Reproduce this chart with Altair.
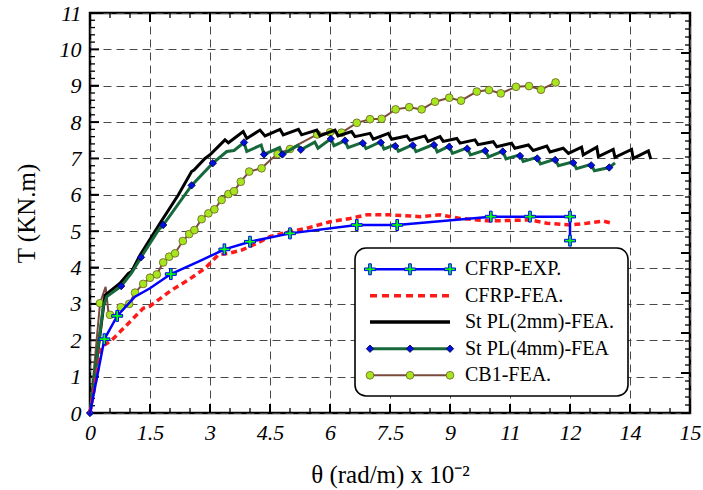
import altair as alt
import pandas as pd
import numpy as np

# ---------------- data ----------------
# CFRP-EXP. (line + plus markers)
exp_x = [0, 0.36, 0.68, 1.125, 1.5, 2.02, 2.71, 3.36, 4.0, 5.0, 6.67, 7.68, 10.02, 11.0, 12.0, 12.0]
exp_y = [0, 2.03, 2.67, 3.20, 3.43, 3.82, 4.16, 4.50, 4.71, 4.94, 5.17, 5.17, 5.40, 5.40, 5.40, 4.74]
expm_x = [0.36, 0.68, 2.02, 3.36, 4.0, 5.0, 6.67, 7.68, 10.02, 11.0, 12.0, 12.0]
expm_y = [2.03, 2.67, 3.82, 4.50, 4.71, 4.94, 5.17, 5.17, 5.40, 5.40, 5.40, 4.74]

# CFRP-FEA. (red dashed)
fea_x = [0, 0.29, 0.54, 0.875, 1.33, 1.5, 2.04, 2.46, 2.875, 3.21, 3.46, 3.79, 4.08, 4.5, 5.0,
         5.42, 6.0, 6.5, 6.92, 7.5, 8.25, 8.75, 9.25, 10.0, 11.0, 11.42, 12.0, 12.42, 12.83, 13.04]
fea_y = [0, 1.82, 2.0, 2.37, 2.88, 2.94, 3.38, 3.66, 3.98, 4.35, 4.39, 4.48, 4.62, 4.85, 4.99,
         5.08, 5.26, 5.35, 5.45, 5.45, 5.40, 5.45, 5.35, 5.28, 5.31, 5.22, 5.17, 5.22, 5.28, 5.22]

# St PL(2mm)-FEA. (black)
st2_x = [0, 0.375, 0.75, 0.96, 1.04, 1.25, 1.625, 1.75, 2.21, 2.54, 2.6, 2.875, 3.0, 3.375, 3.46,
         3.83, 3.92, 4.25, 4.375, 4.75, 4.83, 5.21, 5.29, 5.67, 5.75, 6.125, 6.2, 6.54, 6.625,
         7.0, 7.08, 7.46, 7.54, 7.92, 8.0, 8.375, 8.45, 8.75, 8.83, 9.17, 9.25, 9.625, 9.7,
         10.08, 10.17, 10.54, 10.62, 10.96, 11.08, 11.42, 11.5, 11.83, 11.96, 12.29, 12.33,
         12.67, 12.71, 13.08, 13.125, 13.54, 13.58, 13.96, 14.02]
st2_y = [0, 3.24, 3.57, 3.84, 3.89, 4.34, 5.0, 5.22, 6.0, 6.64, 6.68, 7.0, 7.10, 7.51, 7.43,
         7.74, 7.55, 7.78, 7.62, 7.80, 7.65, 7.80, 7.65, 7.78, 7.62, 7.78, 7.62, 7.74, 7.60,
         7.69, 7.53, 7.69, 7.53, 7.62, 7.50, 7.62, 7.47, 7.60, 7.47, 7.55, 7.42, 7.51, 7.38,
         7.46, 7.32, 7.42, 7.28, 7.37, 7.22, 7.34, 7.18, 7.28, 7.14, 7.31, 7.10,
         7.31, 7.05, 7.25, 7.03, 7.25, 7.00, 7.21, 6.98]

# St PL(4mm)-FEA (green line + blue diamonds)
st4_x = [0, 0.33, 0.42, 0.78, 1.04, 1.275, 1.71, 1.83, 2.54, 3.07, 3.42, 3.6, 3.85, 3.92,
         4.28, 4.35, 4.74, 4.81, 5.2, 5.27, 5.62, 5.7, 6.02, 6.1, 6.375, 6.45, 6.82, 6.9,
         7.27, 7.35, 7.63, 7.71, 8.07, 8.15, 8.6, 8.68, 8.98, 9.06, 9.43, 9.51, 9.88, 9.96,
         10.32, 10.4, 10.75, 10.83, 11.18, 11.26, 11.63, 11.71, 12.08, 12.16, 12.53, 12.61,
         12.98, 13.125]
st4_y = [0, 2.92, 3.20, 3.49, 3.85, 4.28, 5.03, 5.17, 6.26, 6.87, 7.19, 7.22, 7.44, 7.19,
         7.37, 7.11, 7.30, 7.11, 7.36, 7.24, 7.45, 7.28, 7.54, 7.35, 7.49, 7.30, 7.44, 7.27,
         7.46, 7.26, 7.38, 7.20, 7.38, 7.19, 7.39, 7.18, 7.34, 7.14, 7.29, 7.10, 7.23, 7.04,
         7.20, 6.99, 7.10, 6.92, 7.03, 6.85, 6.98, 6.80, 6.91, 6.72, 6.84, 6.66,
         6.75, 6.88]
st4m_x = [0, 0.78, 1.275, 1.83, 2.54, 3.07, 3.85, 4.35, 4.81, 5.27, 6.02, 6.375, 6.82, 7.27,
          7.63, 8.07, 8.6, 8.98, 9.43, 9.88, 10.32, 10.75, 11.18, 11.63, 12.08, 12.53, 12.98]
st4m_y = [0, 3.49, 4.28, 5.17, 6.26, 6.87, 7.44, 7.11, 7.11, 7.24, 7.54, 7.49, 7.42, 7.44,
          7.34, 7.36, 7.37, 7.32, 7.27, 7.21, 7.19, 7.07, 7.00, 6.96, 6.88, 6.81, 6.75]

# CB1-FEA. (brown line + yellow-green circles)
cb1_x = [0, 0.25, 0.39, 0.46, 0.5, 0.6, 0.77, 0.98, 1.125, 1.33, 1.5, 1.67, 1.83, 1.98, 2.125,
         2.32, 2.48, 2.61, 2.79, 2.96, 3.11, 3.29, 3.46, 3.6, 3.77, 3.98, 4.29, 4.5, 4.69, 5.0,
         5.34, 5.68, 6.0, 6.29, 6.67, 7.0, 7.29, 7.64, 7.98, 8.29, 8.625, 8.98, 9.275, 9.67,
         9.975, 10.27, 10.65, 10.975, 11.275, 11.64]
cb1_y = [0, 3.02, 3.47, 2.78, 2.70, 2.66, 2.91, 3.0, 3.31, 3.55, 3.72, 3.81, 4.14, 4.30, 4.39,
         4.73, 4.92, 5.03, 5.33, 5.49, 5.60, 5.86, 6.02, 6.10, 6.36, 6.64, 6.73, 6.95, 7.12, 7.26,
         7.46, 7.66, 7.72, 7.71, 7.98, 8.08, 8.09, 8.35, 8.41, 8.35, 8.56, 8.67, 8.59, 8.84,
         8.88, 8.79, 8.97, 8.99, 8.89, 9.09]
cb1m_x = [0.25, 0.5, 0.77, 0.98, 1.125, 1.33, 1.5, 1.67, 1.83, 1.98, 2.125, 2.32, 2.48, 2.61,
          2.79, 2.96, 3.11, 3.29, 3.46, 3.6, 3.77, 3.98, 4.29, 4.69, 5.0, 5.68, 6.0, 6.29, 6.67,
          7.0, 7.29, 7.64, 7.98, 8.29, 8.625, 8.98, 9.275, 9.67, 9.975, 10.27, 10.65, 10.975,
          11.275, 11.64]
cb1m_y = [3.02, 2.70, 2.91, 3.0, 3.31, 3.55, 3.72, 3.81, 4.14, 4.30, 4.39, 4.73, 4.92, 5.03,
          5.33, 5.49, 5.60, 5.86, 6.02, 6.10, 6.36, 6.64, 6.73, 7.12, 7.26, 7.66, 7.72, 7.71, 7.98,
          8.08, 8.09, 8.35, 8.41, 8.35, 8.56, 8.67, 8.59, 8.84, 8.88, 8.79, 8.97, 8.99,
          8.89, 9.09]

legend_names = ["CFRP-EXP.", "CFRP-FEA.", "St PL(2mm)-FEA.", "St PL(4mm)-FEA", "CB1-FEA."]

x_major = [0, 1.5, 3, 4.5, 6, 7.5, 9, 10.5, 12, 13.5, 15]
y_major = list(range(0, 12))

# ---------------- layout / style ----------------
W, H = 600, 400
FONT = "Liberation Serif"
BLUE = "#0000ff"
RED = "#ff1a1a"
GREEN = "#16693a"
BROWN = "#7a4a3c"
PLUS = "M-1,-0.24H-0.24V-1H0.24V-0.24H1V0.24H0.24V1H-0.24V0.24H-1Z"

xs = alt.Scale(domain=[0, 15], nice=False, zero=False)
ys = alt.Scale(domain=[0, 11], nice=False, zero=False)

xaxis = alt.Axis(values=x_major, format="~g", grid=True, gridDash=[8, 5], gridColor="#4a4a4a",
                 gridWidth=1, ticks=False, domain=False, labelFlush=False, labelOverlap=False,
                 labelFont=FONT, labelFontStyle="italic", labelFontSize=22, labelColor="black",
                 labelPadding=9, title="θ (rad/m) x 10⁻²", titleFont=FONT, titleFontSize=25,
                 titleFontWeight="normal", titleColor="black", titlePadding=19)
yaxis = alt.Axis(values=y_major, format="d", grid=True, gridDash=[8, 5], gridColor="#4a4a4a",
                 gridWidth=1, ticks=False, domain=False, labelOverlap=False,
                 labelFont=FONT, labelFontStyle="italic", labelFontSize=22, labelColor="black",
                 labelPadding=9, title="T (KN.m)", titleFont=FONT, titleFontSize=25,
                 titleFontWeight="normal", titleColor="black", titlePadding=20)

X = alt.X("x:Q", scale=xs, axis=xaxis)
Y = alt.Y("y:Q", scale=ys, axis=yaxis)


def df(xv, yv):
    return pd.DataFrame({"x": xv, "y": yv, "i": list(range(len(xv)))})


def line(xv, yv, color, width, dash=None):
    kw = dict(color=color, strokeWidth=width, strokeJoin="miter", clip=False)
    if dash:
        kw["strokeDash"] = dash
    return alt.Chart(df(xv, yv)).mark_line(**kw).encode(x=X, y=Y, order="i:Q")


def pts(xv, yv, shape, fill, stroke, size, sw=1.0):
    return alt.Chart(df(xv, yv)).mark_point(shape=shape, filled=True, fill=fill, stroke=stroke,
                                            strokeWidth=sw, size=size, opacity=1).encode(x=X, y=Y)


# ---- tick marks drawn inward on all four sides ----
x_minor = [v for v in np.arange(0, 15.01, 0.5).round(2).tolist() if v not in x_major]
y_minor = [v for v in np.arange(0, 11.001, 0.2).round(2).tolist() if v not in y_major]
r_major = np.arange(0, 11.001, 1.1).round(3).tolist()
r_minor = [v for v in np.arange(0, 11.001, 0.22).round(3).tolist() if v not in r_major]


def xticks(vals, y0, y1, w):
    return alt.Chart(pd.DataFrame({"x": vals})).mark_rule(color="black", strokeWidth=w).encode(
        x=X, y=alt.value(y0), y2=alt.value(y1))


def yticks(vals, x0, x1, w):
    return alt.Chart(pd.DataFrame({"y": vals})).mark_rule(color="black", strokeWidth=w).encode(
        y=Y, x=alt.value(x0), x2=alt.value(x1))


ticks = [
    xticks(x_major, H, H - 9, 2), xticks(x_minor, H, H - 5, 1.3),
    xticks(x_major, 0, 9, 2), xticks(x_minor, 0, 5, 1.3),
    yticks(y_major, 0, 9, 2), yticks(y_minor, 0, 5, 1.3),
    yticks(r_major, W, W - 9, 2), yticks(r_minor, W, W - 5, 1.3),
]

# ---- data series ----
series = [
    line(cb1_x, cb1_y, BROWN, 2),
    pts(cb1m_x, cb1m_y, "circle", "#a6e61e", "#6e5a2a", 60, 0.8),
    line(st2_x, st2_y, "black", 3),
    line(st4_x, st4_y, GREEN, 3),
    pts(st4m_x, st4m_y, "diamond", "#0010e0", "#000040", 55, 0.8),
    line(fea_x, fea_y, RED, 3.5, [6, 4]),
    line(exp_x, exp_y, BLUE, 2.5),
    pts(expm_x, expm_y, PLUS, "#00ff00", BLUE, 120, 1.0),
]

# ---- legend (box in data units, placed inside plot) ----
def px2x(p):
    return p / W * 15


def px2y(p):
    return 11 - p / H * 11


box = pd.DataFrame({"x": [px2x(265)], "x2": [px2x(538)], "y": [px2y(235)], "y2": [px2y(383)]})
legend_box = alt.Chart(box).mark_rect(cornerRadius=11, fill="white", stroke="black",
                                      strokeWidth=1.6).encode(x=X, x2="x2:Q", y=Y, y2="y2:Q")

row_px = [256.3, 282.7, 309, 335.7, 362.3]
row_y = [px2y(p) for p in row_px]
sx0, sx1, sxm = px2x(280), px2x(360), px2x(320)
tx = px2x(375)

legend_layers = [legend_box]
styles = [(BLUE, 2.5, None), (RED, 3.5, [7, 5]), ("black", 3.5, None), (GREEN, 3, None), (BROWN, 2, None)]
for (col, w, dash), yy in zip(styles, row_y):
    kw = dict(color=col, strokeWidth=w)
    if dash:
        kw["strokeDash"] = dash
    legend_layers.append(
        alt.Chart(pd.DataFrame({"x": [sx0], "x2": [sx1], "y": [yy]})).mark_rule(**kw).encode(
            x=X, x2="x2:Q", y=Y))
legend_layers.append(pts([sx0, sxm, sx1], [row_y[0]] * 3, PLUS, "#00ff00", BLUE, 120, 1.0))
legend_layers.append(pts([sx0, sxm, sx1], [row_y[3]] * 3, "diamond", "#0010e0", "#000040", 55, 0.8))
legend_layers.append(pts([sx0, sxm, sx1], [row_y[4]] * 3, "circle", "#a6e61e", "#6e5a2a", 60, 0.8))
legend_layers.append(
    alt.Chart(pd.DataFrame({"x": [tx] * 5, "y": row_y, "name": legend_names})).mark_text(
        align="left", baseline="middle", font=FONT, fontSize=20, color="black").encode(
        x=X, y=Y, text="name:N"))

chart = alt.layer(*ticks, *series, *legend_layers).properties(
    width=W, height=H, autosize="none",
    padding={"left": 90, "top": 13, "right": 13, "bottom": 77},
    background="white",
).configure_view(stroke="black", strokeWidth=2.5)

chart.save("out.html", embed_options={"renderer": "svg", "actions": False})
